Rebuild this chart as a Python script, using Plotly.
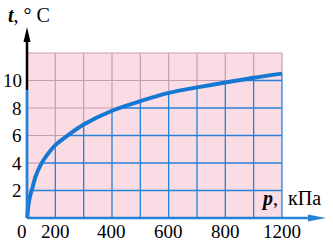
import numpy as np
import plotly.graph_objects as go

# ---- data ----
p_kpa = [1, 3, 7, 12, 18, 30, 49, 75, 100, 150, 200, 300, 400, 500, 600, 700, 800, 900]
t_c = [0, 0.6, 1.2, 1.7, 2.1, 3.0, 3.9, 4.7, 5.3, 6.1, 6.8, 7.8, 8.5, 9.1, 9.5, 9.85, 10.2, 10.5]

x_grid = [100, 200, 300, 400, 500, 600, 700, 800, 900]
y_grid = [2, 4, 6, 8, 10, 12]
x_tick_pos = [0, 100, 300, 500, 700, 900]
x_tick_labels = ["0", "200", "400", "600", "800", "1200"]
y_tick_vals = [2, 4, 6, 8, 10]
y_tick_labels = ["2", "4", "6", "8", "10"]

# ---- layout geometry ----
W, H = 333, 243
X0, Y0 = 27, 218          # pixel of origin
SX = 28.33 / 100          # px per kPa
SY = 13.75                # px per degree
xr = [-X0 / SX, (W - X0) / SX]
yr = [-(H - Y0) / SY, Y0 / SY]


def dx(px):
    return (px - X0) / SX


def dy(py):
    return (Y0 - py) / SY


PINK = "rgb(250,220,228)"
GRAY = "rgb(200,158,175)"
BLUE = "rgb(38,130,215)"
CURVE = "rgb(22,120,210)"
FONT = "Liberation Serif, Times New Roman, Times, serif"

shapes = []
pmax, tmax = max(x_grid), max(y_grid)
shapes.append(dict(type="rect", xref="x", yref="y", x0=0, x1=pmax, y0=0, y1=tmax,
                   fillcolor=PINK, line=dict(width=0), layer="below"))

for p in x_grid:
    tc = float(np.interp(p, p_kpa, t_c))
    shapes.append(dict(type="line", xref="x", yref="y", x0=p, x1=p, y0=tc, y1=tmax,
                       line=dict(color=GRAY, width=1.2), layer="below"))
    shapes.append(dict(type="line", xref="x", yref="y", x0=p, x1=p, y0=0, y1=tc,
                       line=dict(color=BLUE, width=1.3), layer="below"))
for t in y_grid:
    pc = float(np.interp(t, t_c, p_kpa)) if t <= max(t_c) else pmax
    shapes.append(dict(type="line", xref="x", yref="y", x0=0, x1=pc, y0=t, y1=t,
                       line=dict(color=GRAY, width=1.2), layer="below"))
    if pc < pmax:
        shapes.append(dict(type="line", xref="x", yref="y", x0=pc, x1=pmax, y0=t, y1=t,
                           line=dict(color=BLUE, width=1.3), layer="below"))

# x axis with arrow
shapes.append(dict(type="line", xref="x", yref="y", x0=0, x1=dx(312), y0=0, y1=0,
                   line=dict(color=BLUE, width=2.5)))
shapes.append(dict(type="path", xref="x", yref="y",
                   path=f"M {dx(326)},{dy(218)} L {dx(308)},{dy(214.5)} L {dx(308)},{dy(221.5)} Z",
                   fillcolor=BLUE, line=dict(width=0)))
# y axis with arrow
shapes.append(dict(type="line", xref="x", yref="y", x0=0, x1=0, y0=0, y1=dy(90),
                   line=dict(color=BLUE, width=2.8)))
shapes.append(dict(type="line", xref="x", yref="y", x0=0, x1=0, y0=dy(90), y1=dy(38),
                   line=dict(color="black", width=2.5)))
shapes.append(dict(type="path", xref="x", yref="y",
                   path=f"M {dx(27)},{dy(27)} L {dx(23.5)},{dy(42)} L {dx(30.5)},{dy(42)} Z",
                   fillcolor="black", line=dict(width=0)))

annotations = []
for v, lab in zip(y_tick_vals, y_tick_labels):
    annotations.append(dict(xref="x", yref="y", x=dx(23.5), y=v, text=lab, showarrow=False,
                            xanchor="right", yanchor="middle",
                            font=dict(family=FONT, size=19, color="black")))
for v, lab in zip(x_tick_pos, x_tick_labels):
    xx = dx(22) if v == 0 else v
    annotations.append(dict(xref="x", yref="y", x=xx, y=dy(231.5), text=lab, showarrow=False,
                            xanchor="center", yanchor="middle",
                            font=dict(family=FONT, size=19, color="black")))
annotations.append(dict(xref="x", yref="y", x=dx(29), y=dy(15), text="<b><i>t</i></b>, ° C",
                        showarrow=False, xanchor="center", yanchor="middle",
                        font=dict(family=FONT, size=20, color="black")))
annotations.append(dict(xref="x", yref="y", x=dx(291), y=dy(198), text="<b><i>p</i></b>,  кПа",
                        showarrow=False, xanchor="center", yanchor="middle",
                        font=dict(family=FONT, size=20, color="black")))

fig = go.Figure()
fig.add_trace(go.Scatter(x=p_kpa, y=t_c, mode="lines",
                         line=dict(color=CURVE, width=4, shape="spline", smoothing=0.8),
                         hoverinfo="skip"))
fig.update_layout(
    width=W, height=H, margin=dict(l=0, r=0, t=0, b=0),
    paper_bgcolor="white", plot_bgcolor="white", showlegend=False,
    font=dict(family=FONT),
    xaxis=dict(range=xr, visible=False, fixedrange=True),
    yaxis=dict(range=yr, visible=False, fixedrange=True),
    shapes=shapes, annotations=annotations,
)
fig.write_html("out.html", config={"displayModeBar": False})
